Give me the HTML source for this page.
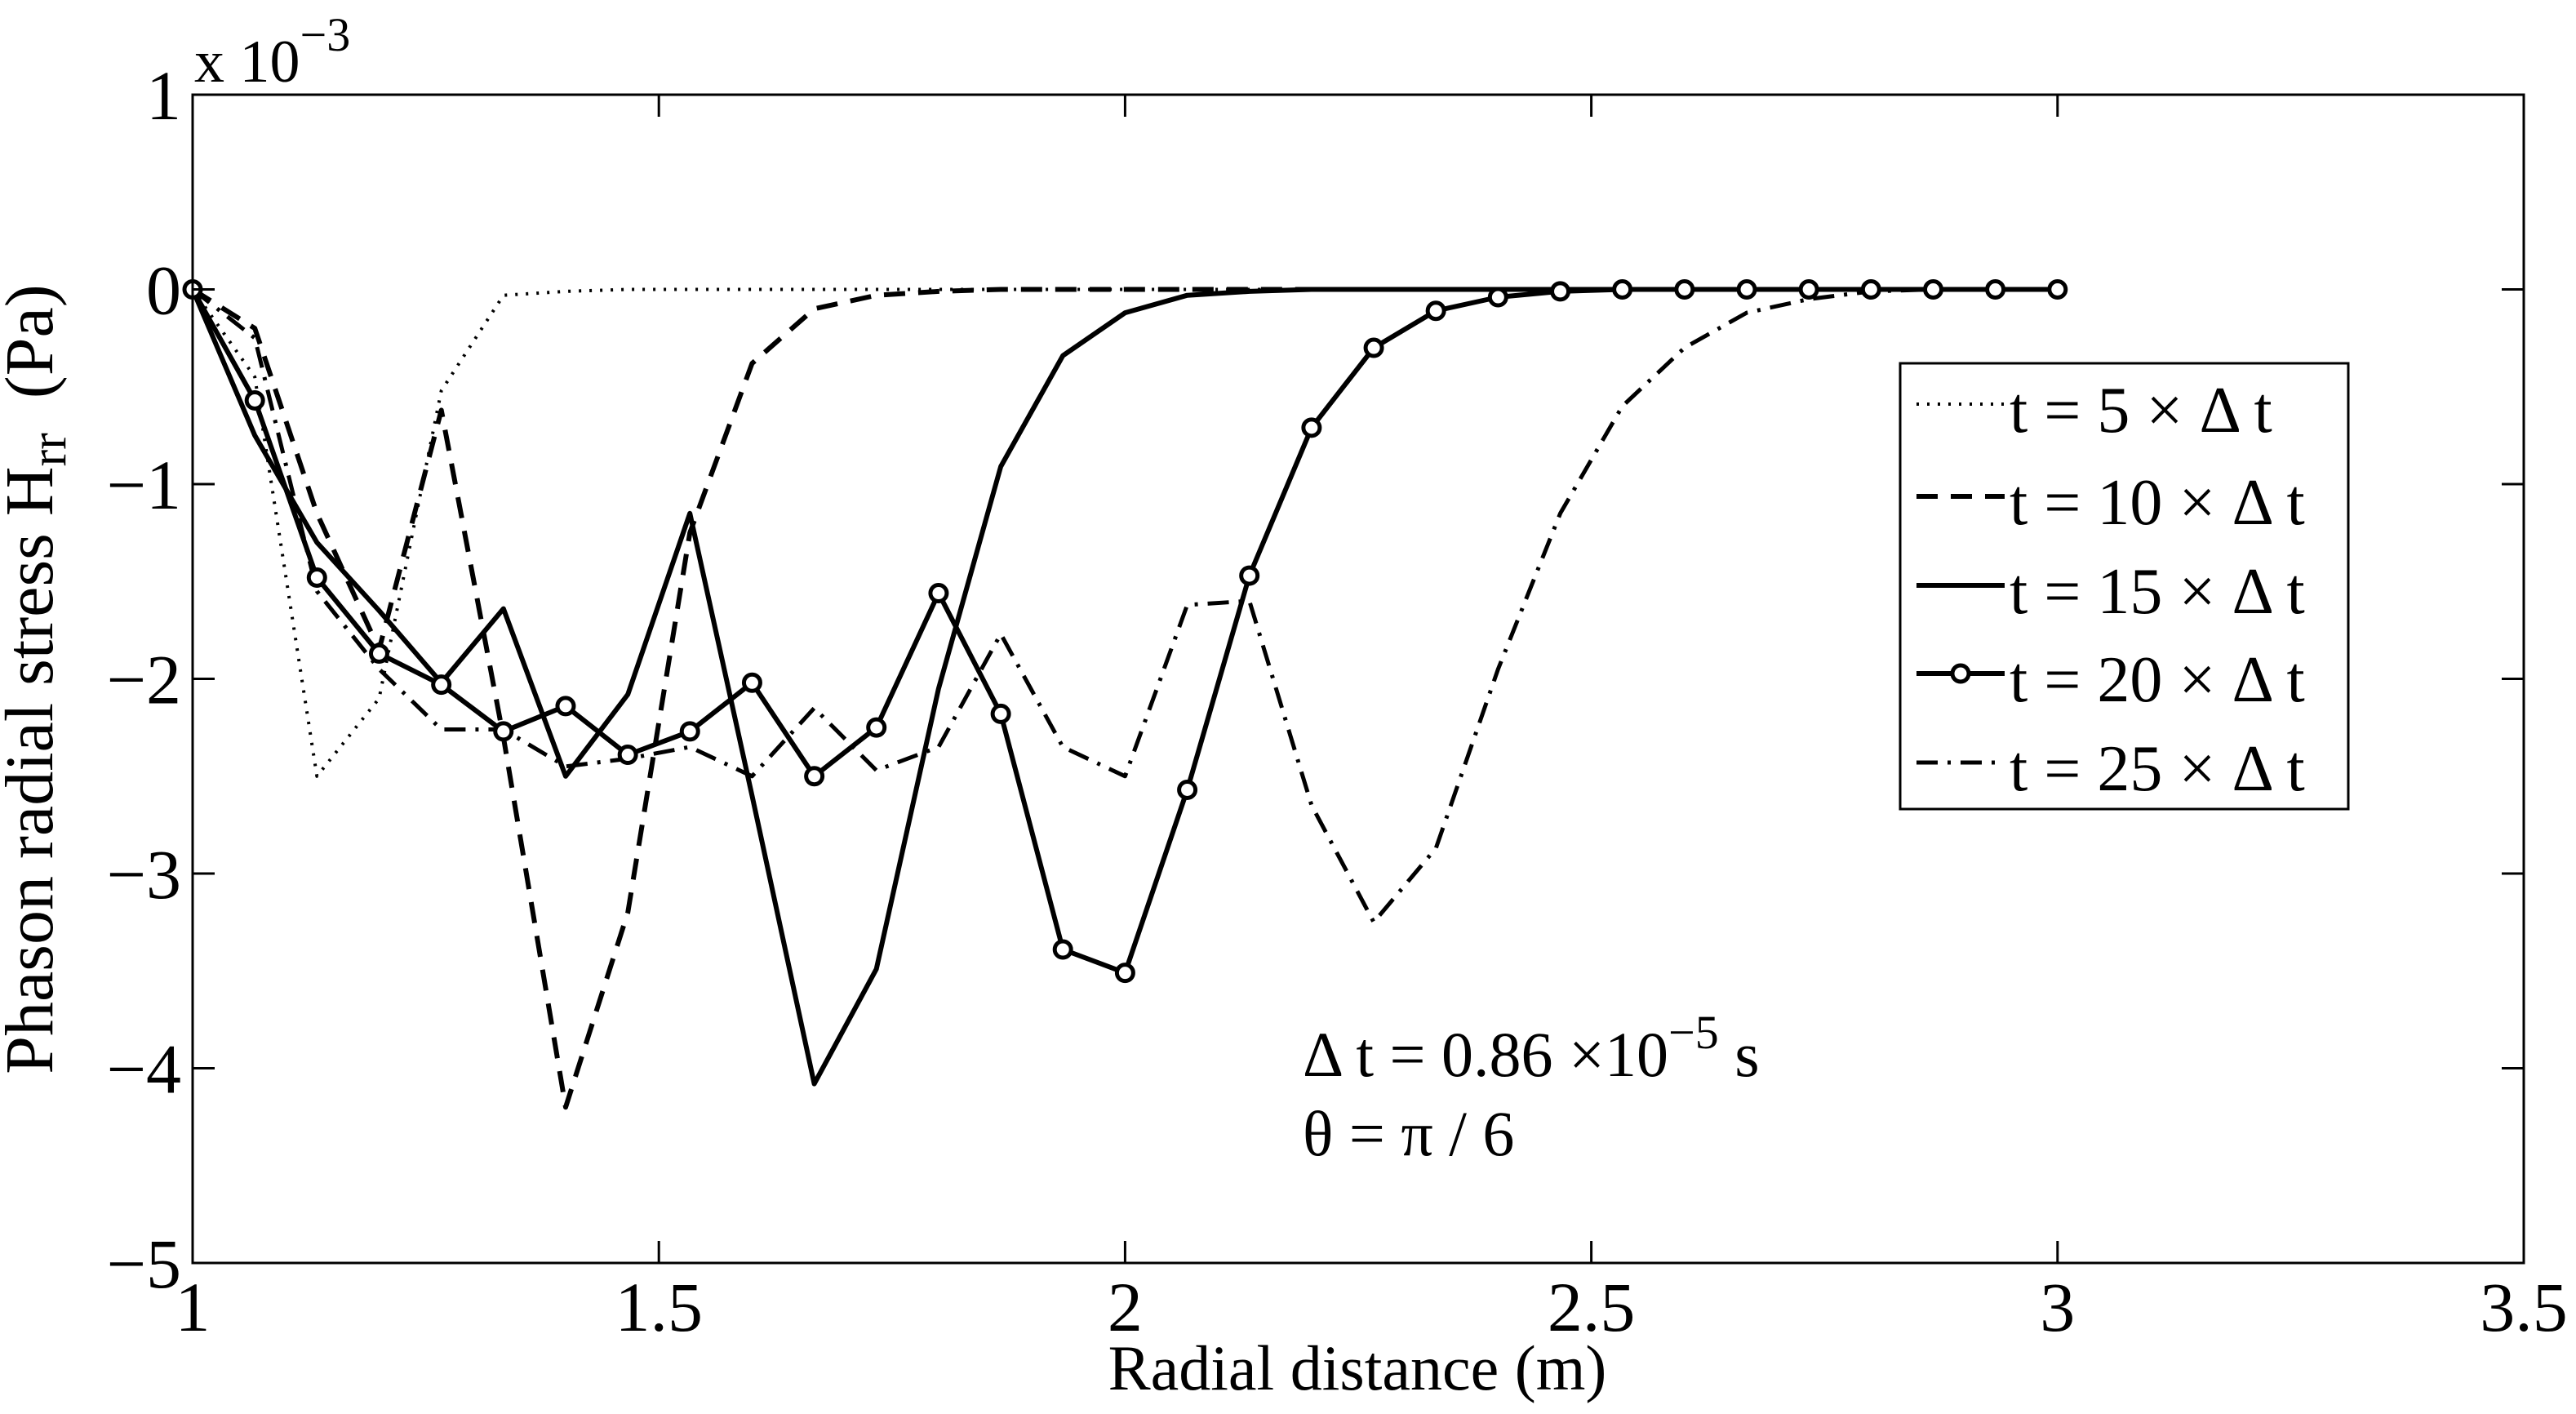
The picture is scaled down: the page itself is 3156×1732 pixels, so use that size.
<!DOCTYPE html>
<html><head><meta charset="utf-8"><style>
html,body{margin:0;padding:0;background:#fff;}
svg{display:block;font-family:"Liberation Serif",serif;}
</style></head><body>
<svg id="chart" width="3156" height="1732" viewBox="0 0 3156 1732" xmlns="http://www.w3.org/2000/svg">
<rect x="0" y="0" width="3156" height="1732" fill="#fff"/>
<g id="plot"></g>
<text x="238" y="100" font-size="74">x 10<tspan dy="-38" font-size="58">−3</tspan></text>
<text x="1663" y="1702" font-size="78" text-anchor="middle">Radial distance (m)</text>
<text transform="translate(64,832) rotate(-90)" font-size="84" text-anchor="middle" xml:space="preserve">Phason radial stress H<tspan dy="16" font-size="62">rr</tspan><tspan dy="-16">  (Pa)</tspan></text>
<text x="1596" y="1318" font-size="78">Δ t = 0.86 ×10<tspan dy="-34" font-size="58">−5</tspan><tspan dy="34"> s</tspan></text>
<text x="1596" y="1415" font-size="78">θ = π / 6</text>
<g id="legend"></g>
</svg>
<script>
const xValues = [1,1.0667,1.1333,1.2,1.2667,1.3333,1.4,1.4667,1.5333,1.6,1.6667,1.7333,1.8,1.8667,1.9333,2,2.0667,2.1333,2.2,2.2667,2.3333,2.4,2.4667,2.5333,2.6,2.6667,2.7333,2.8,2.8667,2.9333,3];
const s5  = [0,-0.45,-2.5,-2.1,-0.52,-0.03,-0.01,0,0,0,0,0,0,0,0,0,0,0,0,0,0,0,0,0,0,0,0,0,0,0,0];
const s10 = [0,-0.2,-1.15,-1.85,-0.62,-2.3,-4.2,-3.2,-1.25,-0.38,-0.1,-0.03,-0.01,0,0,0,0,0,0,0,0,0,0,0,0,0,0,0,0,0,0];
const s15 = [0,-0.75,-1.3,-1.65,-2.02,-1.64,-2.5,-2.08,-1.15,-2.6,-4.08,-3.49,-2.05,-0.91,-0.34,-0.12,-0.03,-0.01,0,0,0,0,0,0,0,0,0,0,0,0,0];
const s20 = [0,-0.57,-1.48,-1.87,-2.03,-2.27,-2.14,-2.39,-2.27,-2.02,-2.5,-2.25,-1.56,-2.18,-3.39,-3.51,-2.57,-1.47,-0.71,-0.3,-0.11,-0.04,-0.01,0,0,0,0,0,0,0,0];
const s25 = [0,-0.25,-1.55,-1.95,-2.26,-2.26,-2.45,-2.41,-2.35,-2.5,-2.15,-2.47,-2.35,-1.77,-2.35,-2.5,-1.62,-1.6,-2.65,-3.25,-2.87,-1.95,-1.15,-0.6,-0.3,-0.12,-0.05,-0.01,0,0,0];
const xTicks = [1,1.5,2,2.5,3,3.5];
const xTickLabels = ["1","1.5","2","2.5","3","3.5"];
const yTicks = [1,0,-1,-2,-3,-4,-5];
const yTickLabels = ["1","0","−1","−2","−3","−4","−5"];
const legendLabels = ["t = 5 × Δ t","t = 10 × Δ t","t = 15 × Δ t","t = 20 × Δ t","t = 25 × Δ t"];

const L=236,R=3092,T=116,B=1547;
const X0=1,X1=3.5,Y0=-5,Y1=1;
const sx=v=>L+(v-X0)/(X1-X0)*(R-L);
const sy=v=>B-(v-Y0)/(Y1-Y0)*(B-T);
const NS="http://www.w3.org/2000/svg";
const plot=document.getElementById('plot');
function mk(tag,attrs,parent){const e=document.createElementNS(NS,tag);for(const k in attrs)e.setAttribute(k,attrs[k]);(parent||plot).appendChild(e);return e;}

const styles=[
 {dash:"3,10",w:4},
 {dash:"26,16",w:6},
 {dash:"",w:6},
 {dash:"",w:6},
 {dash:"26,12,4,12",w:5}
];
const series=[s5,s10,s15,s20,s25];
const names=['series-t5','series-t10','series-t15','series-t20','series-t25'];
series.forEach((s,i)=>{
  const pts=s.map((v,j)=>sx(xValues[j]).toFixed(1)+','+sy(v).toFixed(1)).join(' ');
  const pl=mk('polyline',{points:pts,fill:'none',stroke:'#000','stroke-width':styles[i].w,'stroke-linejoin':'round'});
  if(styles[i].dash)pl.setAttribute('stroke-dasharray',styles[i].dash);
  
  
});
s20.forEach((v,j)=>{
  const c=mk('circle',{cx:sx(xValues[j]),cy:sy(v),r:10,fill:'#fff',stroke:'#000','stroke-width':5});
  
  
});

const box=mk('rect',{x:L,y:T,width:R-L,height:B-T,fill:'none',stroke:'#000','stroke-width':3});


const tl=27;
xTicks.forEach((v,i)=>{
  const x=sx(v);
  mk('line',{x1:x,y1:B,x2:x,y2:B-tl,stroke:'#000','stroke-width':3});
  mk('line',{x1:x,y1:T,x2:x,y2:T+tl,stroke:'#000','stroke-width':3});
  const t=mk('text',{x:x,y:1630,'font-size':86,'text-anchor':'middle'});
  t.textContent=xTickLabels[i];
  
  
});
yTicks.forEach((v,i)=>{
  const y=sy(v);
  mk('line',{x1:L,y1:y,x2:L+tl,y2:y,stroke:'#000','stroke-width':3});
  mk('line',{x1:R,y1:y,x2:R-tl,y2:y,stroke:'#000','stroke-width':3});
  const t=mk('text',{x:222,y:y+30,'font-size':86,'text-anchor':'end'});
  t.textContent=yTickLabels[i];
  
  
});

const lg=document.getElementById('legend');
mk('rect',{x:2328,y:445,width:549,height:546,fill:'#fff',stroke:'#000','stroke-width':3},lg);
const rows=[503,616,725,833,942];
legendLabels.forEach((lab,i)=>{
  const y=rows[i];
  const ln=mk('line',{x1:2348,y1:y-8,x2:2456,y2:y-8,stroke:'#000','stroke-width':styles[i].w},lg);
  if(styles[i].dash)ln.setAttribute('stroke-dasharray',styles[i].dash);
  
  
  if(i===3){mk('circle',{cx:2402,cy:y-8,r:10,fill:'#fff',stroke:'#000','stroke-width':5},lg);}
  const t=mk('text',{x:2462,y:y+26,'font-size':80},lg);
  t.textContent=lab;
  
  
});
</script>
</body></html>
